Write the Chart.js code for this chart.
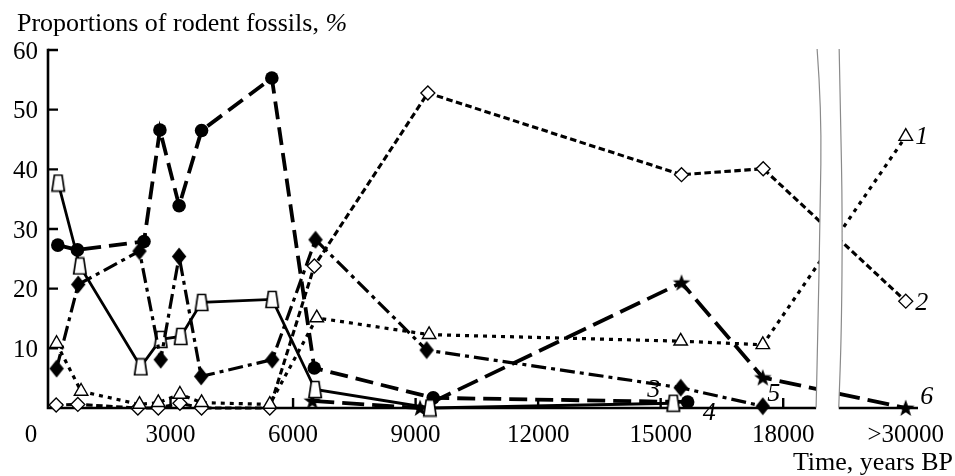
<!DOCTYPE html>
<html>
<head>
<meta charset="utf-8">
<script src="https://cdn.jsdelivr.net/npm/chart.js@4.4.1/dist/chart.umd.min.js"></script>
<style>
  html, body { margin: 0; padding: 0; background: #fff; }
  #wrap { width: 955px; height: 476px; position: relative; }
</style>
</head>
<body>
<div id="wrap"><canvas id="c" width="955" height="476"></canvas></div>
<script>
// ---- data (years BP -> proportion, %) ----
const GAP_X = 21000; // plotted position used for the ">30000" group (right of the axis break)

const xTickValues = [0, 3000, 6000, 9000, 12000, 15000, 18000, GAP_X];
const xTickLabels = ['0', '3000', '6000', '9000', '12000', '15000', '18000', '>30000'];
const yTickValues = [10, 20, 30, 40, 50, 60];

// 1: open triangles, dotted
const s1Years  = [210, 810, 2240, 2700, 3230, 3760, 5430, 6580, 9330, 15490, 17500, GAP_X];
const s1Values = [10.8, 2.8, 0.6, 0.9, 2.3, 0.9, 0.6, 15.1, 12.3, 11.2, 10.6, 45.5];
// 2: open diamonds, short dashes
const s2Years  = [200, 730, 2200, 2700, 3230, 3760, 5430, 6520, 9300, 15510, 17510, GAP_X];
const s2Values = [0.5, 0.6, 0, 0, 0.8, 0, 0, 23.8, 52.8, 39.1, 40.1, 17.9];
// 3: filled diamonds, dash-dot
const s3Years  = [210, 740, 2240, 2760, 3210, 3750, 5490, 6550, 9270, 15490, 17500];
const s3Values = [6.6, 20.7, 26.3, 8.1, 25.4, 5.3, 8.1, 28.2, 9.7, 3.4, 0.3];
// 4: open squares, solid
const s4Years  = [250, 780, 2270, 2760, 3250, 3760, 5490, 6540, 9350, 15310];
const s4Values = [37.7, 23.8, 6.9, 11.5, 12.0, 17.7, 18.2, 3.1, 0, 0.8];
// 5: filled circles, long dashes
const s5Years  = [240, 720, 2350, 2740, 3210, 3760, 5480, 6520, 9430, 15660];
const s5Values = [27.3, 26.5, 27.9, 46.6, 33.9, 46.5, 55.3, 6.7, 1.7, 1.0];
// 6: stars, long dashes
const s6Years  = [6470, 9110, 15510, 17500, GAP_X];
const s6Values = [1.2, 0, 21.0, 5.1, 0];

const seriesLabels = ['1', '2', '3', '4', '5', '6'];

// ---- marker images ----
function makeCanvas(w, h, draw) {
  const c = document.createElement('canvas');
  c.width = w; c.height = h;
  draw(c.getContext('2d'));
  return c;
}
const trapMarker = makeCanvas(16, 19, g => {
  g.beginPath();
  g.moveTo(4.2, 1.5); g.lineTo(11.8, 1.5); g.lineTo(14.2, 17.5); g.lineTo(1.8, 17.5); g.closePath();
  g.fillStyle = '#fff'; g.fill();
  g.lineWidth = 1.7; g.strokeStyle = '#000'; g.stroke();
});
const starMarker = makeCanvas(20, 20, g => {
  g.beginPath();
  const cx = 10, cy = 10.6, R = 9.2, r = 3.7;
  for (let i = 0; i < 10; i++) {
    const a = -Math.PI / 2 + i * Math.PI / 5;
    const rr = i % 2 === 0 ? R : r;
    const px = cx + rr * Math.cos(a), py = cy + rr * Math.sin(a);
    if (i === 0) g.moveTo(px, py); else g.lineTo(px, py);
  }
  g.closePath(); g.fillStyle = '#000'; g.fill();
});
const fDiamondMarker = makeCanvas(16, 19, g => {
  g.beginPath();
  g.moveTo(8, 0.5); g.lineTo(15.2, 9.5); g.lineTo(8, 18.5); g.lineTo(0.8, 9.5); g.closePath();
  g.fillStyle = '#000'; g.fill();
});

function pts(xs, ys) { return xs.map((x, i) => ({ x: x, y: ys[i] })); }

const base = { showLine: true, tension: 0, borderColor: '#000', clip: false, fill: false };

const datasets = [
  Object.assign({}, base, { label: seriesLabels[0], data: pts(s1Years, s1Values), borderWidth: 3.2,
    borderDash: [4, 5], pointStyle: 'triangle', pointRadius: 7.8, pointBackgroundColor: '#fff',
    pointBorderColor: '#000', pointBorderWidth: 1.4 }),
  Object.assign({}, base, { label: seriesLabels[1], data: pts(s2Years, s2Values), borderWidth: 3.1,
    borderDash: [6.5, 3.5], pointStyle: 'rectRot', pointRadius: 7, pointBackgroundColor: '#fff',
    pointBorderColor: '#000', pointBorderWidth: 1.3 }),
  Object.assign({}, base, { label: seriesLabels[2], data: pts(s3Years, s3Values), borderWidth: 3.2,
    borderDash: [15, 5, 4, 5], pointStyle: fDiamondMarker }),
  Object.assign({}, base, { label: seriesLabels[3], data: pts(s4Years, s4Values), borderWidth: 2.8,
    pointStyle: trapMarker }),
  Object.assign({}, base, { label: seriesLabels[4], data: pts(s5Years, s5Values), borderWidth: 3.8,
    borderDash: [18, 8], pointStyle: 'circle', pointRadius: 6.8, pointBackgroundColor: '#000',
    pointBorderColor: '#000', pointBorderWidth: 0 }),
  Object.assign({}, base, { label: seriesLabels[5], data: pts(s6Years, s6Values), borderWidth: 3.8,
    borderDash: [22, 8], pointStyle: starMarker }),
];

const SERIF = '"Liberation Serif", "DejaVu Serif", serif';

// smooth path through points (quadratic midpoints)
function smoothPath(ctx, p, move) {
  if (move) ctx.moveTo(p[0][0], p[0][1]); else ctx.lineTo(p[0][0], p[0][1]);
  for (let i = 1; i < p.length - 1; i++) {
    const mx = (p[i][0] + p[i + 1][0]) / 2, my = (p[i][1] + p[i + 1][1]) / 2;
    ctx.quadraticCurveTo(p[i][0], p[i][1], mx, my);
  }
  ctx.lineTo(p[p.length - 1][0], p[p.length - 1][1]);
}

const decor = {
  id: 'decor',
  beforeDatasetsDraw(chart) {
    const ctx = chart.ctx, xs = chart.scales.x, ys = chart.scales.y;
    const x0 = xs.getPixelForValue(0), y0 = ys.getPixelForValue(0);
    const yTop = ys.getPixelForValue(60), xEnd = xs.right;
    ctx.save();
    ctx.strokeStyle = '#000'; ctx.lineWidth = 2.6; ctx.lineCap = 'butt';
    ctx.beginPath();
    ctx.moveTo(x0, y0 + 1.3); ctx.lineTo(x0, yTop - 1.3);
    ctx.moveTo(x0 - 1.3, y0); ctx.lineTo(xEnd, y0);
    ctx.stroke();
    ctx.lineWidth = 2.4;
    ctx.beginPath();
    yTickValues.forEach(v => {
      const y = ys.getPixelForValue(v);
      ctx.moveTo(x0, y); ctx.lineTo(x0 + 10, y);
    });
    xTickValues.forEach(v => {
      if (v === 0 || v === GAP_X) return;
      const x = xs.getPixelForValue(v);
      ctx.moveTo(x, y0); ctx.lineTo(x, y0 - 10);
    });
    ctx.stroke();
    ctx.restore();
  },
  afterDatasetsDraw(chart) {
    const ctx = chart.ctx, xs = chart.scales.x, ys = chart.scales.y;
    const y0 = ys.getPixelForValue(0), top = ys.getPixelForValue(60) - 1;
    const b1 = xs.getPixelForValue(18830), b2 = xs.getPixelForValue(19370);
    const bottom = y0 - 0.5, h = bottom - top;
    const left = [[0, 0], [4.5, 0.17], [3, 0.47], [0.7, 0.79], [-1, 1]].map(q => [b1 + q[0], top + q[1] * h]);
    const right = [[0, 0], [1.3, 0.17], [3.3, 0.47], [2.3, 0.79], [-0.4, 1]].map(q => [b2 + q[0], top + q[1] * h]);
    ctx.save();
    ctx.beginPath();
    smoothPath(ctx, left, true);
    ctx.lineTo(left[4][0], y0 + 3);
    ctx.lineTo(right[4][0], y0 + 3);
    smoothPath(ctx, right.slice().reverse(), false);
    ctx.closePath();
    ctx.fillStyle = '#fff'; ctx.fill();
    ctx.strokeStyle = '#8a8a8a'; ctx.lineWidth = 1.2;
    [left, right].forEach(p => { ctx.beginPath(); smoothPath(ctx, p, true); ctx.stroke(); });
    ctx.restore();
  },
  afterDraw(chart) {
    const ctx = chart.ctx, xs = chart.scales.x, ys = chart.scales.y;
    const x0 = xs.getPixelForValue(0);
    ctx.save();
    ctx.fillStyle = '#000';
    // y tick labels
    ctx.font = '25px ' + SERIF;
    ctx.textAlign = 'right'; ctx.textBaseline = 'middle';
    yTickValues.forEach(v => ctx.fillText(String(v), x0 - 10, ys.getPixelForValue(v) + 2));
    // x tick labels
    ctx.textAlign = 'center'; ctx.textBaseline = 'alphabetic';
    xTickValues.forEach((v, i) => {
      let x = xs.getPixelForValue(v);
      if (v === 0) x -= 17;
      ctx.fillText(xTickLabels[i], x, 442);
    });
    // axis titles
    ctx.font = '26px ' + SERIF;
    ctx.textAlign = 'left';
    const t1 = 'Proportions of rodent fossils, ';
    ctx.fillText(t1, 17, 31);
    const w1 = ctx.measureText(t1).width;
    ctx.font = 'italic 26px ' + SERIF;
    ctx.fillText('%', 17 + w1, 31);
    ctx.font = '26px ' + SERIF;
    ctx.textAlign = 'right';
    ctx.fillText('Time, years BP', 953, 470);
    // series numbers
    ctx.font = 'italic 26px ' + SERIF;
    ctx.textAlign = 'center'; ctx.textBaseline = 'middle';
    const at = (ds, idx) => {
      const d = chart.data.datasets[ds].data[idx];
      return [xs.getPixelForValue(d.x), ys.getPixelForValue(d.y)];
    };
    let p;
    p = at(0, s1Years.length - 1); ctx.fillText(seriesLabels[0], p[0] + 16, p[1] + 1);
    p = at(1, s2Years.length - 1); ctx.fillText(seriesLabels[1], p[0] + 16, p[1] + 2);
    p = at(2, 9);  ctx.fillText(seriesLabels[2], p[0] - 27, p[1] + 2);
    p = at(3, s4Years.length - 1); ctx.fillText(seriesLabels[3], p[0] + 36, p[1] + 10);
    p = at(2, s3Years.length - 1); ctx.fillText(seriesLabels[4], p[0] + 11, p[1] - 12);
    p = at(5, s6Years.length - 1); ctx.fillText(seriesLabels[5], p[0] + 21, p[1] - 11);
    ctx.restore();
  }
};

new Chart(document.getElementById('c'), {
  type: 'line',
  data: { datasets: datasets },
  options: {
    responsive: false,
    animation: false,
    devicePixelRatio: 1,
    layout: { padding: { left: 48, right: 37, top: 50, bottom: 68 } },
    plugins: { legend: { display: false }, tooltip: { enabled: false } },
    scales: {
      x: { type: 'linear', min: 0, max: 21300, display: false },
      y: { type: 'linear', min: 0, max: 60, display: false }
    }
  },
  plugins: [decor]
});
</script>
</body>
</html>
